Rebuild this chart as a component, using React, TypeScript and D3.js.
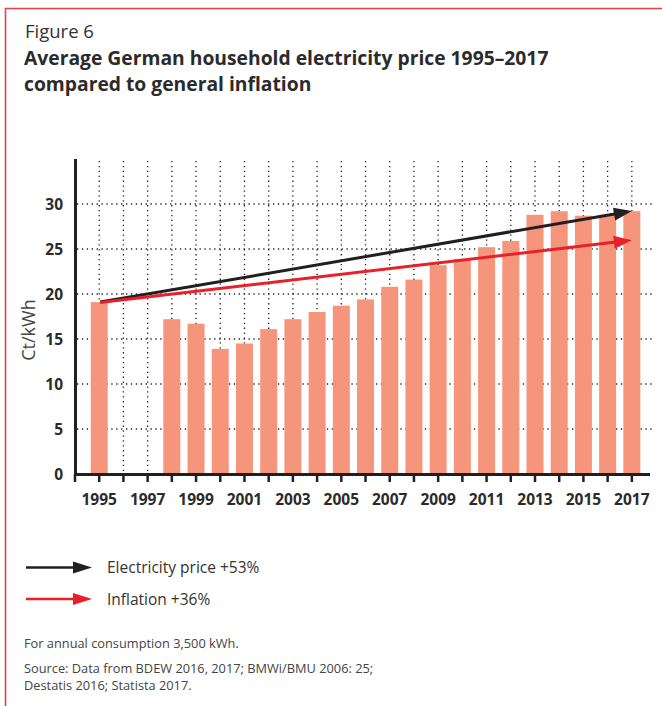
import React from "react";
import * as d3 from "d3";

const years: number[] = [1995, 1998, 1999, 2000, 2001, 2002, 2003, 2004, 2005, 2006, 2007, 2008, 2009, 2010, 2011, 2012, 2013, 2014, 2015, 2016, 2017];
const prices: number[] = [19.1, 17.2, 16.7, 13.9, 14.5, 16.1, 17.2, 18.0, 18.7, 19.4, 20.8, 21.6, 23.2, 23.9, 25.2, 25.9, 28.8, 29.2, 28.7, 28.8, 29.2];
const yTicks: number[] = [0, 5, 10, 15, 20, 25, 30];
const xLabelYears: number[] = [1995, 1997, 1999, 2001, 2003, 2005, 2007, 2009, 2011, 2013, 2015, 2017];
const arrowStart = { year: 1995, value: 19.1 };
const arrowEndYear = 2017;
const electricityGrowth = 0.53;
const inflationGrowth = 0.36;
const legendLabels: string[] = ["Electricity price +53%", "Inflation +36%"];
const titleLines: string[] = ["Average German household electricity price 1995–2017", "compared to general inflation"];
const notes: string[] = ["For annual consumption 3,500 kWh.", "Source: Data from BDEW 2016, 2017; BMWi/BMU 2006: 25;", "Destatis 2016; Statista 2017."];

const FONT = "'Open Sans', 'Noto Sans', sans-serif";
const BAR = "#f5967c";
const BLACK = "#231f20";
const RED = "#e8202a";
const TEXT = "#2b2b2b";

function Arrow({ x1, y1, x2, y2, color, len = 18, half = 6.5, width = 3 }: any) {
  const ang = Math.atan2(y2 - y1, x2 - x1);
  const bx = x2 - len * Math.cos(ang);
  const by = y2 - len * Math.sin(ang);
  const px = -Math.sin(ang) * half;
  const py = Math.cos(ang) * half;
  const head = `M${x2},${y2}L${bx + px},${by + py}L${bx - px},${by - py}Z`;
  return (
    <g>
      <line x1={x1} y1={y1} x2={bx + 2 * Math.cos(ang)} y2={by + 2 * Math.sin(ang)} stroke={color} strokeWidth={width} />
      <path d={head} fill={color} />
    </g>
  );
}

export default function App() {
  const x = d3.scaleLinear().domain([1994, 2017.75]).range([75, 650]);
  const y = d3.scaleLinear().domain([0, 35]).range([474, 159]);
  const barW = 17;
  const allYears = d3.range(1995, 2018);
  const tickYears = d3.range(1994, 2018);

  const ex = x(arrowEndYear);
  const sx = x(arrowStart.year) + 1;
  const sy = y(arrowStart.value);
  const eyE = y(arrowStart.value * (1 + electricityGrowth));
  const eyI = y(arrowStart.value * (1 + inflationGrowth));

  return (
    <div style={{ position: "absolute", left: 0, top: 0 }}>
      <svg width={662} height={706} style={{ display: "block", fontFamily: FONT }}>
        <rect x={0} y={0} width={662} height={706} fill="#fff" />
        {/* frame */}
        <line x1={5.5} y1={8} x2={5.5} y2={706} stroke="#e8404a" strokeWidth={1.6} />
        <line x1={5} y1={8.5} x2={662} y2={8.5} stroke="#e8404a" strokeWidth={1.6} />

        {/* titles */}
        <text x={25} y={38} fontSize={18.5} fill="#333" fontWeight={400}>Figure 6</text>
        {titleLines.map((t, i) => (
          <text key={t} x={24} y={65 + i * 26} fontSize={19.3} fontWeight={700} fill={TEXT}>{t}</text>
        ))}

        {/* grid */}
        <g stroke="#222" strokeWidth={1.3} strokeDasharray="1.3,3.6">
          {yTicks.filter((v) => v > 0).map((v) => (
            <line key={"h" + v} x1={77} x2={653} y1={y(v)} y2={y(v)} />
          ))}
          {allYears.map((yr) => (
            <line key={"v" + yr} x1={x(yr)} x2={x(yr)} y1={161} y2={473} />
          ))}
        </g>

        {/* bars */}
        {years.map((yr, i) => (
          <rect key={yr} x={x(yr) - barW / 2} y={y(prices[i])} width={barW} height={y(0) - y(prices[i])} fill={BAR} />
        ))}

        {/* axes */}
        <line x1={75.5} x2={75.5} y1={159} y2={475.5} stroke={BLACK} strokeWidth={3} />
        <line x1={74} x2={650} y1={474.5} y2={474.5} stroke={BLACK} strokeWidth={3} />
        {tickYears.map((yr) => (
          <line key={"t" + yr} x1={x(yr)} x2={x(yr)} y1={474} y2={482} stroke={BLACK} strokeWidth={2.5} />
        ))}

        {/* y tick labels */}
        {yTicks.map((v) => (
          <text key={"yl" + v} x={63} y={y(v)} dy="0.36em" textAnchor="end" fontSize={15.5} fontWeight={700} fill={TEXT}>{v}</text>
        ))}
        {/* x tick labels */}
        {xLabelYears.map((yr) => (
          <text key={"xl" + yr} x={x(yr)} y={505} textAnchor="middle" fontSize={15.5} fontWeight={700} fill={TEXT}>{yr}</text>
        ))}

        {/* y axis title */}
        <text transform="translate(35,330) rotate(-90)" textAnchor="middle" fontSize={18} fill="#444">Ct/kWh</text>

        {/* trend arrows */}
        <Arrow x1={sx} y1={sy} x2={ex} y2={eyE} color={BLACK} />
        <Arrow x1={sx} y1={sy + 0.5} x2={ex} y2={eyI} color={RED} />

        {/* legend */}
        <Arrow x1={26} y1={567.5} x2={92} y2={567.5} color={BLACK} len={19} half={6} width={2.5} />
        <Arrow x1={26} y1={599} x2={92} y2={599} color={RED} len={19} half={6} width={2.5} />
        <text x={107} y={572.5} fontSize={15.5} fill="#333">{legendLabels[0]}</text>
        <text x={107} y={605} fontSize={15.5} fill="#333">{legendLabels[1]}</text>

        {/* notes */}
        <text x={24} y={648} fontSize={12.8} fill="#444">{notes[0]}</text>
        <text x={24} y={673} fontSize={12.8} fill="#444">{notes[1]}</text>
        <text x={24} y={690} fontSize={12.8} fill="#444">{notes[2]}</text>
      </svg>
    </div>
  );
}
